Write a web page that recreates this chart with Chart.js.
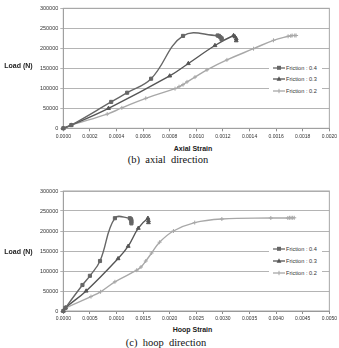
<!DOCTYPE html>
<html>
<head>
<meta charset="utf-8">
<script src="https://cdn.jsdelivr.net/npm/chart.js@4.4.1/dist/chart.umd.min.js"></script>
<style>
  body { margin: 0; background: #fff; }
  #wrap { position: relative; width: 339px; height: 348px; font-family: "Liberation Sans", Arial, sans-serif; color: #333; }
  canvas { position: absolute; left: 0; }
  .t { position: absolute; white-space: nowrap; transform: translate(-50%, -50%); }
  .axt { font-weight: bold; font-size: 7px; color: #222; }
  .cap { font-family: "Liberation Serif", "Times New Roman", serif; font-size: 10.5px; color: #111; }
  .legend { position: absolute; background: #fff; }
  .legend .row { position: absolute; left: 4px; height: 8px; font-size: 5.6px; line-height: 8px; white-space: nowrap; color: #333; }
  .legend svg { vertical-align: top; margin-right: 1px; }
</style>
</head>
<body>
<div id="wrap">
  <canvas id="axialChart" width="339" height="142" style="top:0px"></canvas>
  <canvas id="hoopChart" width="339" height="142" style="top:180px"></canvas>

  <div class="t axt" style="left:18.5px; top:65px">Load (N)</div>
  <div class="t axt" style="left:193px; top:147.5px">Axial Strain</div>
  <div class="t cap" style="left:168px; top:158.5px">(b)&nbsp; axial&nbsp; direction</div>

  <div class="t axt" style="left:18.5px; top:250.5px">Load (N)</div>
  <div class="t axt" style="left:192.5px; top:328.5px">Hoop Strain</div>
  <div class="t cap" style="left:166px; top:341.5px">(c)&nbsp; hoop&nbsp; direction</div>

  <div class="legend" id="legendTop" style="left:269px; top:60px; width:53px; height:38px"></div>
  <div class="legend" id="legendBottom" style="left:269px; top:241px; width:53px; height:40px"></div>
</div>

<script>
// series names
var seriesNames = ["Friction : 0.4", "Friction : 0.3", "Friction : 0.2"];

// (b) axial direction
var axialStrain04 = [0, 0.00006, 0.00036, 0.00048, 0.00066, 0.00090, 0.00116, 0.00117, 0.00118, 0.00119, 0.00119];
var axialLoad04 = [0, 8000, 66000, 89000, 124000, 231000, 232000, 231000, 228000, 225000, 222000];
var axialStrain03 = [0, 0.00006, 0.00034, 0.00080, 0.00094, 0.00114, 0.00128, 0.00129, 0.00130, 0.00130];
var axialLoad03 = [0, 8000, 50000, 131000, 162000, 207000, 232000, 229000, 224000, 219000];
var axialStrain02 = [0, 0.00006, 0.00033, 0.00044, 0.00062, 0.00084, 0.00087, 0.00090, 0.00093, 0.00099, 0.00108, 0.00123, 0.00143, 0.00158, 0.00169, 0.00171, 0.00172, 0.00174, 0.00175];
var axialLoad02 = [0, 8000, 35500, 51000, 75000, 99000, 104000, 109000, 116000, 128000, 146000, 171000, 199000, 220000, 230000, 231000, 232000, 232000, 232000];

// (c) hoop direction
var hoopStrain04 = [0, 0.00004, 0.00036, 0.00050, 0.00069, 0.00097, 0.00125, 0.00127, 0.00128, 0.00128, 0.00128];
var hoopLoad04 = [0, 8000, 65000, 88000, 125000, 232000, 232000, 230000, 227000, 223000, 219000];
var hoopStrain03 = [0, 0.00004, 0.00043, 0.00103, 0.00122, 0.00141, 0.00159, 0.00160, 0.00160];
var hoopLoad03 = [0, 8000, 50000, 131000, 162000, 207000, 232000, 226000, 221000];
var hoopStrain02 = [0, 0.00004, 0.00052, 0.00070, 0.00097, 0.00138, 0.00146, 0.00155, 0.00166, 0.00181, 0.00207, 0.00247, 0.00298, 0.00390, 0.00422, 0.00425, 0.00428, 0.00431, 0.00434];
var hoopLoad02 = [0, 7000, 36000, 48000, 73000, 102000, 110000, 125000, 145000, 172000, 200000, 221000, 230000, 232500, 232500, 233000, 233000, 233000, 233000];

// axis ticks
var loadMax = 300000, loadStep = 50000;
var axialMax = 0.002, axialStep = 0.0002;
var hoopMax = 0.005, hoopStep = 0.0005;

var lineColors = ["#666666", "#555555", "#a8a8a8"];
var markers = ["rect", "triangle", "cross"];

function toPoints(xs, ys) {
  var pts = [];
  for (var i = 0; i < xs.length; i++) pts.push({ x: xs[i], y: ys[i] });
  return pts;
}

function makeDataset(i, xs, ys) {
  return {
    label: seriesNames[i],
    data: toPoints(xs, ys),
    borderColor: lineColors[i],
    backgroundColor: lineColors[i],
    borderWidth: 1.4,
    pointStyle: markers[i],
    pointRadius: i == 2 ? 2 : 2.2,
    pointBorderWidth: 1,
    tension: 0.4,
    clip: false,
  };
}

var plotBorder = {
  id: "plotBorder",
  beforeDatasetsDraw: function (chart) {
    var a = chart.chartArea, c = chart.ctx;
    c.save();
    c.strokeStyle = "#a6a6a6";
    c.lineWidth = 1;
    c.strokeRect(a.left, a.top, a.right - a.left, a.bottom - a.top);
    c.restore();
  },
};

function makeChart(id, datasets, xMax, xStep, padTop, xHeight) {
  var ctx = document.getElementById(id).getContext("2d");
  return new Chart(ctx, {
    type: "scatter",
    data: { datasets: datasets },
    plugins: [plotBorder],
    options: {
      responsive: false,
      animation: false,
      devicePixelRatio: 1,
      showLine: true,
      layout: { padding: { left: 0, right: 8.5, top: padTop, bottom: 0 } },
      plugins: { legend: { display: false }, tooltip: { enabled: false } },
      scales: {
        x: {
          type: "linear",
          min: 0,
          max: xMax,
          afterFit: function (s) { s.height = xHeight; },
          ticks: {
            stepSize: xStep,
            autoSkip: false,
            maxRotation: 0,
            padding: 2,
            color: "#333",
            font: { size: 5, family: "Liberation Sans" },
            callback: function (v) { return Number(v).toFixed(4); },
          },
          grid: { drawOnChartArea: false, tickLength: 3, color: "#8c8c8c" },
          border: { color: "#8c8c8c" },
        },
        y: {
          min: 0,
          max: loadMax,
          afterFit: function (s) { s.width = 63.3; },
          ticks: {
            stepSize: loadStep,
            padding: 2,
            color: "#333",
            font: { size: 5.5, family: "Liberation Sans" },
            callback: function (v) { return String(v); },
          },
          grid: { color: "#b4b4b4", tickLength: 3 },
          border: { color: "#8c8c8c" },
        },
      },
    },
  });
}

makeChart("axialChart", [
  makeDataset(0, axialStrain04, axialLoad04),
  makeDataset(1, axialStrain03, axialLoad03),
  makeDataset(2, axialStrain02, axialLoad02),
], axialMax, axialStep, 8.3, 13.7);

makeChart("hoopChart", [
  makeDataset(0, hoopStrain04, hoopLoad04),
  makeDataset(1, hoopStrain03, hoopLoad03),
  makeDataset(2, hoopStrain02, hoopLoad02),
], hoopMax, hoopStep, 11, 11);

// legend boxes inside the plot, like the excel original
var markerSvg = [
  '<rect x="4" y="1.8" width="4" height="4" fill="C"/>',
  '<polygon points="6,1.3 8.4,5.8 3.6,5.8" fill="C"/>',
  '<path d="M6 1.8 V6.2" stroke="C" stroke-width="1"/>',
];

function fillLegend(id, rowTops) {
  var box = document.getElementById(id);
  var html = "";
  for (var i = 0; i < seriesNames.length; i++) {
    var col = lineColors[i];
    html += '<div class="row" style="top:' + rowTops[i] + 'px">' +
      '<svg width="12" height="8"><path d="M0 4 H12" stroke="' + col + '" stroke-width="1.3"/>' +
      markerSvg[i].replace(/C/g, col) + "</svg>" + seriesNames[i] + "</div>";
  }
  box.innerHTML = html;
}

fillLegend("legendTop", [3.5, 15, 26.5]);
fillLegend("legendBottom", [4, 16.3, 28.3]);
</script>
</body>
</html>
